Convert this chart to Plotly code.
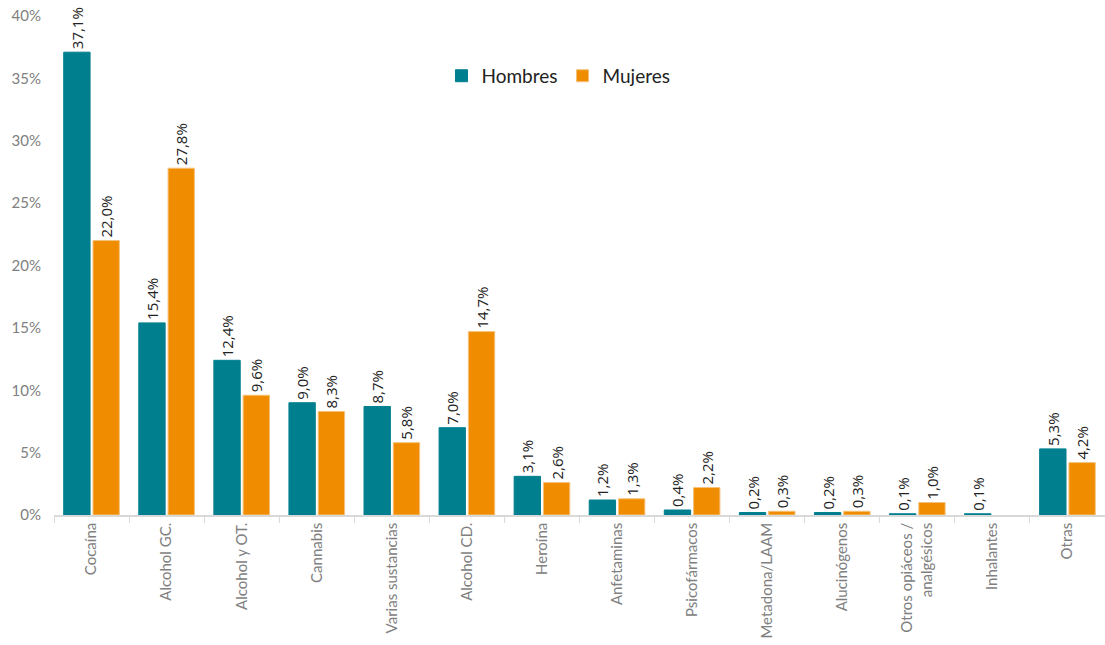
import plotly.graph_objects as go

categories = ["Cocaína", "Alcohol GC.", "Alcohol y OT.", "Cannabis", "Varias sustancias",
              "Alcohol CD.", "Heroína", "Anfetaminas", "Psicofármacos", "Metadona/LAAM",
              "Alucinógenos", "Otros opiáceos /<br>analgésicos", "Inhalantes", "Otras"]
hombres = [37.1, 15.4, 12.4, 9.0, 8.7, 7.0, 3.1, 1.2, 0.4, 0.2, 0.2, 0.1, 0.1, 5.3]
mujeres = [22.0, 27.8, 9.6, 8.3, 5.8, 14.7, 2.6, 1.3, 2.2, 0.3, 0.3, 1.0, None, 4.2]
yticks = [0, 5, 10, 15, 20, 25, 30, 35, 40]

def fmt(v):
    return "" if v is None else f"{v:.1f}%".replace(".", ",")

fig = go.Figure()
for name, vals, col, edge in [("Hombres", hombres, "#007F8F", "#007F8F"),
                              ("Mujeres", mujeres, "#F08C00", "#F5C27A")]:
    fig.add_trace(go.Bar(name=name, x=categories, y=vals,
                         marker=dict(color=col, line=dict(color=edge, width=1)),
                         text=[fmt(v) for v in vals], textposition="outside",
                         textangle=-90, constraintext="none",
                         textfont=dict(color="#222222", size=15,
                                       family="Open Sans, sans-serif"),
                         cliponaxis=False))

fig.update_layout(
    width=1105, height=645,
    margin=dict(l=54, r=0, t=16, b=130),
    plot_bgcolor="white", paper_bgcolor="white",
    font=dict(family="Lato, Noto Sans, sans-serif"),
    barmode="group", bargap=0.22, bargroupgap=0.1,
    legend=dict(orientation="h", x=0.48, xanchor="center", y=0.88, yanchor="middle",
                font=dict(size=19, color="#222222"), itemwidth=30),
    xaxis=dict(tickangle=-90, tickfont=dict(size=15, color="#808080"),
               showline=True, linecolor="#D9D9D9", linewidth=1.5,
               ticks="outside", tickson="boundaries", ticklen=6, tickcolor="#D9D9D9"),
    yaxis=dict(range=[0, 40], tickvals=yticks, ticktext=[f"{t}%" for t in yticks],
               tickfont=dict(size=15, color="#808080"), showgrid=False, zeroline=False,
               ticklabelstandoff=12),
)
fig.write_html("out.html", config={"displayModeBar": False},
               post_script="document.body.style.margin='0';")
